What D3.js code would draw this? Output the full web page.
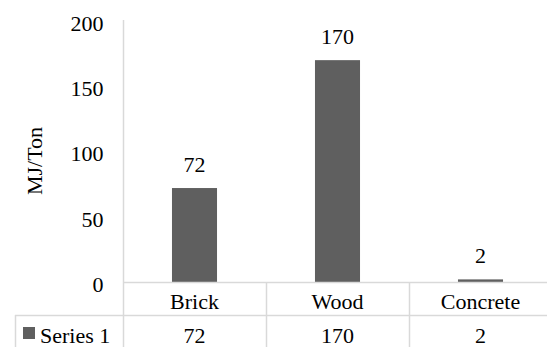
<!DOCTYPE html>
<html>
<head>
<meta charset="utf-8">
<script src="https://cdn.jsdelivr.net/npm/d3@7"></script>
<style>
  html, body { margin: 0; padding: 0; background: #fff; }
</style>
</head>
<body>
<svg id="chart" width="547" height="347"></svg>
<script>
const categories = ["Brick", "Wood", "Concrete"];
const seriesName = "Series 1";
const values = [72, 170, 2];
const yTicks = [0, 50, 100, 150, 200];
const yLabel = "MJ/Ton";

const FONT = "'Liberation Serif', Tinos, 'Times New Roman', 'DejaVu Serif', serif";
const svg = d3.select("#chart");
const W = 547, H = 347;
const left = 123, plotTop = 21, axisY = 282, row2Y = 315, tableLeft = 15;
const fontSize = 22;
const barColor = "#5f5f5f", lineColor = "#d9d9d9";

const x = d3.scaleBand().domain(categories).range([left, left + 143 * categories.length])
  .paddingInner(0.685).paddingOuter(0.3425);
const y = d3.scaleLinear().domain([0, 200]).range([axisY, plotTop]);

// bars
svg.append("g").selectAll("rect").data(values).join("rect")
  .attr("x", (d, i) => x(categories[i]))
  .attr("y", d => y(d))
  .attr("width", x.bandwidth())
  .attr("height", d => y(0) - y(d))
  .attr("fill", barColor);

// value labels
svg.append("g").selectAll("text").data(values).join("text")
  .attr("x", (d, i) => x(categories[i]) + x.bandwidth() / 2)
  .attr("y", d => y(d) - 16)
  .attr("text-anchor", "middle")
  .text(d => d);

// y axis
const yAxis = d3.axisLeft(y).tickValues(yTicks).tickSize(0).tickPadding(20);
const gy = svg.append("g").attr("transform", `translate(${left + 0.5},0)`).call(yAxis);
gy.select(".domain").remove();
gy.selectAll("text").attr("dy", "0.42em");

// y label
svg.append("text")
  .attr("transform", `translate(42,161) rotate(-90)`)
  .attr("text-anchor", "middle")
  .text(yLabel);

// table lines
const step = x.step();
const right = left + step * categories.length;
const g = svg.append("g").attr("stroke", lineColor).attr("stroke-width", 1.5).attr("fill", "none");
g.append("line").attr("x1", left + 0.5).attr("x2", left + 0.5).attr("y1", plotTop - 1).attr("y2", H + 5);
g.append("line").attr("x1", left).attr("x2", right).attr("y1", axisY + 0.5).attr("y2", axisY + 0.5);
g.append("line").attr("x1", tableLeft).attr("x2", right).attr("y1", row2Y + 0.5).attr("y2", row2Y + 0.5);
g.append("line").attr("x1", tableLeft + 0.5).attr("x2", tableLeft + 0.5).attr("y1", row2Y).attr("y2", H + 5);
categories.forEach((c, i) => {
  const xx = Math.round(x(c) - x.paddingInner() * step / 2 + step) + 0.5;
  g.append("line").attr("x1", xx).attr("x2", xx).attr("y1", axisY).attr("y2", H + 5);
});

// category labels
svg.append("g").selectAll("text").data(categories).join("text")
  .attr("x", d => x(d) + x.bandwidth() / 2)
  .attr("y", 309)
  .attr("text-anchor", "middle")
  .text(d => d);

// series row values
svg.append("g").selectAll("text").data(values).join("text")
  .attr("x", (d, i) => x(categories[i]) + x.bandwidth() / 2)
  .attr("y", 343)
  .attr("text-anchor", "middle")
  .text(d => d);

// legend key
svg.append("rect").attr("x", 23).attr("y", 327).attr("width", 12).attr("height", 12).attr("fill", barColor);
svg.append("text").attr("x", 40).attr("y", 343).text(seriesName);

svg.selectAll("text")
  .style("font-family", FONT)
  .style("font-size", fontSize + "px")
  .style("fill", "#000");
</script>
</body>
</html>
